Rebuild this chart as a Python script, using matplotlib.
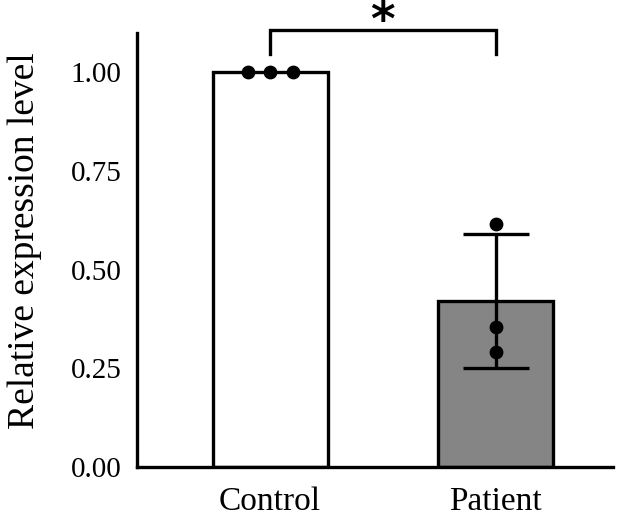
import matplotlib
matplotlib.use('Agg')
import matplotlib.pyplot as plt
import numpy as np

# data
groups = ['Control', 'Patient']
means = [1.00, 0.42]
err_low = [0.0, 0.17]
err_high = [0.0, 0.17]
control_pts = [1.00, 1.00, 1.00]
patient_pts = [0.615, 0.355, 0.29]
yticks = [0.00, 0.25, 0.50, 0.75, 1.00]

plt.rcParams['font.family'] = ['Liberation Serif', 'DejaVu Serif']

fig = plt.figure(figsize=(6.33, 5.22), dpi=100)
ax = fig.add_axes([0.2164, 0.1054, 0.752, 0.832])

x = np.arange(len(groups))
ax.bar(x, means, width=0.51, color=['white', '#858585'], edgecolor='black',
       linewidth=2.4, zorder=2)
ax.errorbar(x[1], means[1], yerr=[[err_low[1]], [err_high[1]]], fmt='none',
            ecolor='black', elinewidth=2.4, capsize=24, capthick=2.4, zorder=3)

ax.scatter(x[0] + np.array([-0.1, 0.0, 0.1]), control_pts, s=80,
           color='black', zorder=4, clip_on=False)
ax.scatter([x[1]] * len(patient_pts), patient_pts, s=80, color='black',
           zorder=4, clip_on=False)

# significance bracket
yb, yd = 1.108, 1.045
ax.plot([x[0], x[0], x[1], x[1]], [yd, yb, yb, yd], color='black',
        linewidth=2.4, clip_on=False, solid_joinstyle='miter')
ax.text(0.5, 1.093, '*', ha='center', va='baseline', fontsize=34,
        fontweight='bold', family='DejaVu Sans')

ax.set_xlim(-0.59, 1.52)
ax.set_ylim(0, 1.1)
ax.set_yticks(yticks)
ax.set_yticklabels(['%.2f' % t for t in yticks])
ax.set_xticks(x)
ax.set_xticklabels(groups)
ax.tick_params(axis='y', length=0, labelsize=21, pad=11)
ax.tick_params(axis='x', length=0, labelsize=24, pad=14)
ax.set_ylabel('Relative expression level', fontsize=27, labelpad=21)
ax.yaxis.label.set_y(0.52)

for s in ['top', 'right']:
    ax.spines[s].set_visible(False)
for s in ['left', 'bottom']:
    ax.spines[s].set_linewidth(2.4)

fig.savefig('out.png', dpi=100)
